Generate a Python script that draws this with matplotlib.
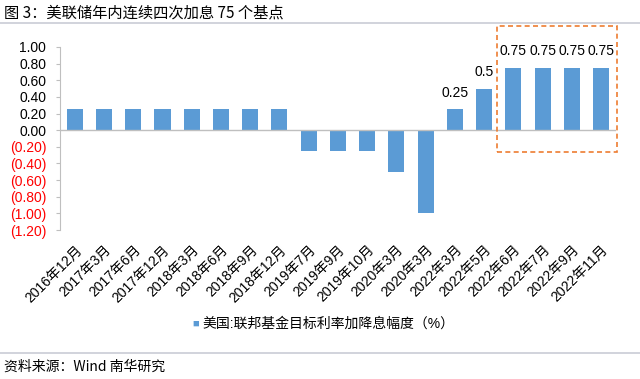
import matplotlib.pyplot as plt
from matplotlib.patches import Rectangle
from matplotlib.lines import Line2D

plt.rcParams['font.family'] = ['Liberation Sans', 'Noto Sans CJK SC', 'DejaVu Sans']

dates = ['2016年12月', '2017年3月', '2017年6月', '2017年12月', '2018年3月',
         '2018年6月', '2018年9月', '2018年12月', '2019年7月', '2019年9月',
         '2019年10月', '2020年3月', '2020年3月', '2022年3月', '2022年5月',
         '2022年6月', '2022年7月', '2022年9月', '2022年11月']
changes = [0.25, 0.25, 0.25, 0.25, 0.25, 0.25, 0.25, 0.25,
           -0.25, -0.25, -0.25, -0.5, -1.0,
           0.25, 0.5, 0.75, 0.75, 0.75, 0.75]
labelled = {13: '0.25', 14: '0.5', 15: '0.75', 16: '0.75', 17: '0.75', 18: '0.75'}
yticks = [1.0, 0.8, 0.6, 0.4, 0.2, 0.0, -0.2, -0.4, -0.6, -0.8, -1.0, -1.2]

bar_color = '#5B9BD5'

fig = plt.figure(figsize=(6.4, 3.79), dpi=100)
ax = fig.add_axes([0.094, 0.393, 0.868, 0.483])

x = range(len(changes))
ax.bar(x, changes, width=0.55, color=bar_color, zorder=2)
ax.set_xlim(-0.5, len(changes) - 0.5)
ax.set_ylim(-1.2, 1.0)
ax.axhline(0, color='#BFBFBF', lw=1, zorder=3)

for i, txt in labelled.items():
    ax.annotate(txt, (i, changes[i]), xytext=(0, 12), textcoords='offset points',
                ha='center', va='center', fontsize=10)

ax.set_yticks(yticks)
ylabels = []
for v in yticks:
    if v < 0:
        ylabels.append('({:.2f})'.format(-v))
    else:
        ylabels.append('{:.2f}'.format(v))
ax.set_yticklabels(ylabels, fontsize=10)
for t, v in zip(ax.get_yticklabels(), yticks):
    if v < 0:
        t.set_color('#FF0000')

ax.set_xticks(list(x))
ax.set_xticklabels(dates, rotation=45, ha='right', va='top',
                   rotation_mode='anchor', fontsize=10)
ax.tick_params(axis='x', length=0, pad=9)
ax.tick_params(axis='y', length=3, color='#BFBFBF', pad=7)

for s in ['top', 'right', 'bottom']:
    ax.spines[s].set_visible(False)
ax.spines['left'].set_color('#BFBFBF')

# dashed highlight box around the four 75bp hikes
box = Rectangle((14.45, -0.265), 4.1, 1.52, fill=False, ls=(0, (3, 2)),
                lw=1.2, edgecolor='#ED7D31', clip_on=False, zorder=4)
ax.add_patch(box)

# legend
fig.text(0.300, 0.147, '■', color=bar_color, fontsize=8, va='center')
fig.text(0.317, 0.147, '美国:联邦基金目标利率加降息幅度（%）', fontsize=10, va='center')

fig.text(0.006, 0.965, '图 3：美联储年内连续四次加息 75 个基点', fontsize=11,
         family=['Noto Sans CJK SC'], va='center')
fig.text(0.006, 0.033, '资料来源：Wind 南华研究', fontsize=10,
         family=['Noto Sans CJK SC'], va='center')
fig.add_artist(Line2D([0, 1], [0.939, 0.939], color='#C9CCD6', lw=1.2))
fig.add_artist(Line2D([0, 1], [0.068, 0.068], color='#C9CCD6', lw=1.2))

fig.savefig('out.png', dpi=100)
